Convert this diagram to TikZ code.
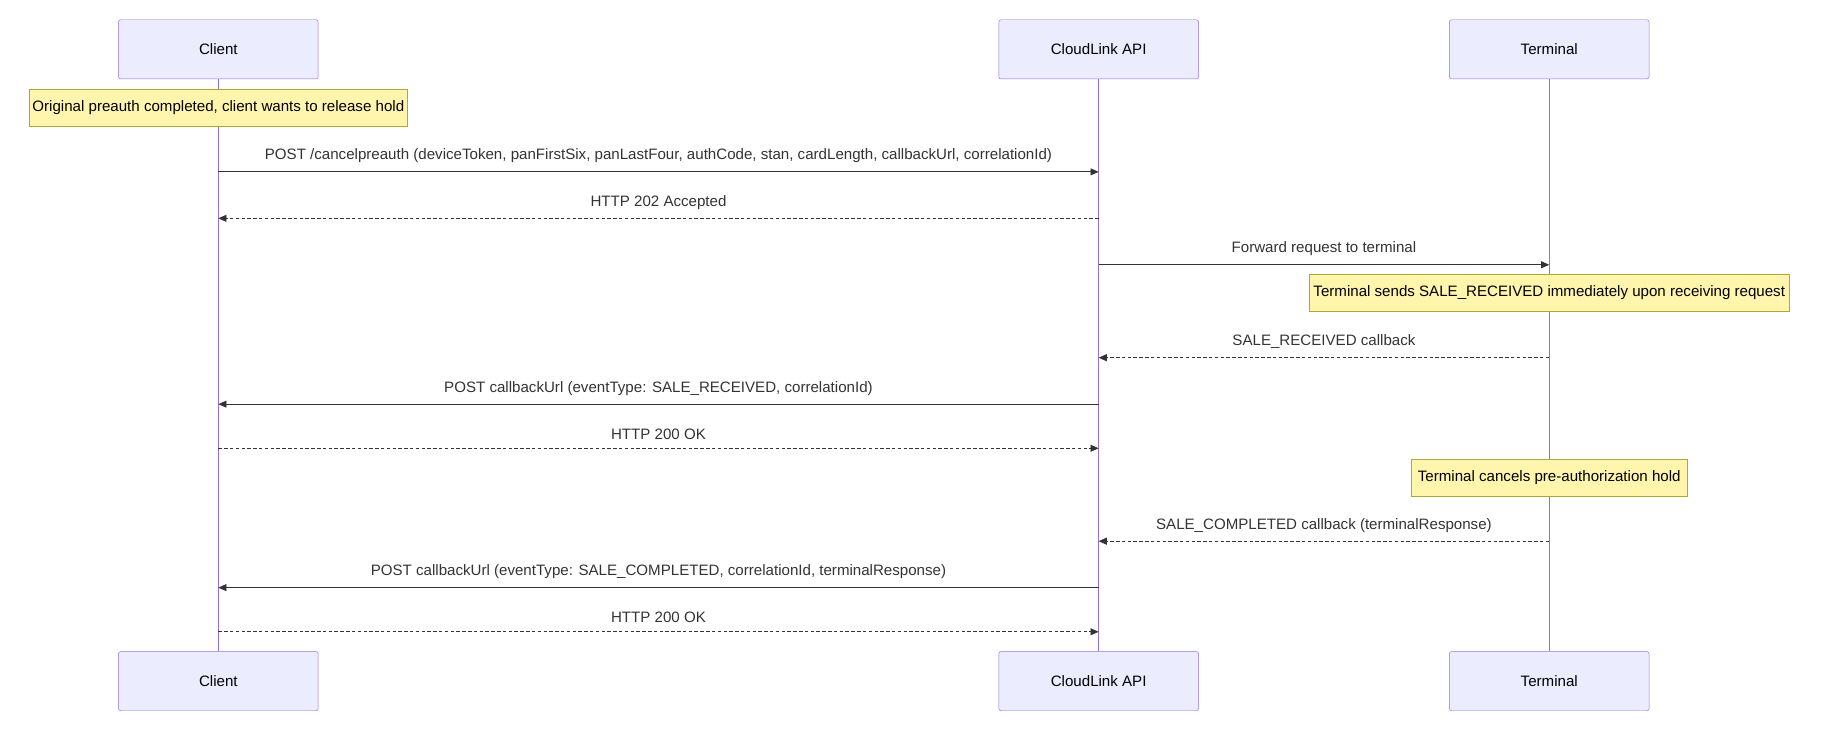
\documentclass[tikz,border=0pt]{standalone}
\usepackage{fontspec}
\setmainfont{Liberation Sans}
\usetikzlibrary{arrows.meta}
\definecolor{actorfill}{HTML}{ECECFF}
\definecolor{actorline}{HTML}{9370DB}
\definecolor{notefill}{HTML}{FFF5AD}
\definecolor{noteline}{HTML}{AAAA33}
\definecolor{msgline}{HTML}{333333}
\newcommand{\clientx}{188}
\newcommand{\apix}{946}
\newcommand{\termx}{1334}

\begin{document}
\begin{tikzpicture}[x=1pt, y=-1pt, >={Triangle[length=7pt,width=6pt]},
  font=\fontsize{13}{15}\selectfont,
  actor/.style={draw=actorline, fill=actorfill, rounded corners=2pt, minimum width=172pt, minimum height=51pt},
  note/.style={draw=noteline, fill=notefill, minimum height=32pt, inner sep=0pt},
  msg/.style={->, draw=msgline, line width=0.8pt},
  reply/.style={msg, dash pattern=on 3pt off 2pt},
  lbl/.style={text=msgline}]
        \useasboundingbox (0,0) rectangle (1568,631);
        
        % actors
        \node[actor] (clientT) at (\clientx, 42.5) {Client};
        \node[actor] (apiT) at (\apix, 42.5) {CloudLink API};
        \node[actor] (termT) at (\termx, 42.5) {Terminal};
        \node[actor] (clientB) at (\clientx, 586.5) {Client};
        \node[actor] (apiB) at (\apix, 586.5) {CloudLink API};
        \node[actor] (termB) at (\termx, 586.5) {Terminal};
        
        % lifelines
        \draw[actorline, line width=1pt] (clientT) -- (clientB);
        \draw[actorline, line width=1pt] (apiT) -- (apiB);
        \draw[actorline, line width=1pt] (termT) -- (termB);
        
        % notes
        \node[note, minimum width=326pt] (note1) at (\clientx, 93) {Original preauth completed, client wants to release hold};
        \node[note, minimum width=414pt] (note2) at (1334, 252) {Terminal sends SALE\_RECEIVED immediately upon receiving request};
        \node[note, minimum width=238pt] (note3) at (\termx, 411) {Terminal cancels pre-authorization hold};
        
        % messages
        \coordinate (c1) at (\clientx, 148); \coordinate (a1) at (\apix, 148);
        \coordinate (c2) at (\clientx, 188); \coordinate (a2) at (\apix, 188);
        \coordinate (a3) at (\apix, 228); \coordinate (t3) at (\termx, 228);
        \coordinate (a5) at (\apix, 308); \coordinate (t5) at (\termx, 308);
        \coordinate (c6) at (\clientx, 348); \coordinate (a6) at (\apix, 348);
        \coordinate (c7) at (\clientx, 386); \coordinate (a7) at (\apix, 386);
        \coordinate (a9) at (\apix, 466); \coordinate (t9) at (\termx, 466);
        \coordinate (c10) at (\clientx, 506); \coordinate (a10) at (\apix, 506);
        \coordinate (c11) at (\clientx, 544); \coordinate (a11) at (\apix, 544);
        
        \draw[msg] (c1) -- node[lbl, above=4pt] {POST /cancelpreauth (deviceToken, panFirstSix, panLastFour, authCode, stan, cardLength, callbackUrl, correlationId)} (a1);
        \draw[reply] (a2) -- node[lbl, above=4pt] {HTTP 202 Accepted} (c2);
        \draw[msg] (a3) -- node[lbl, above=4pt] {Forward request to terminal} (t3);
        \draw[reply] (t5) -- node[lbl, above=4pt] {SALE\_RECEIVED callback} (a5);
        \draw[msg] (a6) -- node[lbl, above=4pt] {POST callbackUrl (eventType: SALE\_RECEIVED, correlationId)} (c6);
        \draw[reply] (c7) -- node[lbl, above=4pt] {HTTP 200 OK} (a7);
        \draw[reply] (t9) -- node[lbl, above=4pt] {SALE\_COMPLETED callback (terminalResponse)} (a9);
        \draw[msg] (a10) -- node[lbl, above=4pt] {POST callbackUrl (eventType: SALE\_COMPLETED, correlationId, terminalResponse)} (c10);
        \draw[reply] (c11) -- node[lbl, above=4pt] {HTTP 200 OK} (a11);
    \end{tikzpicture}
\end{document}
